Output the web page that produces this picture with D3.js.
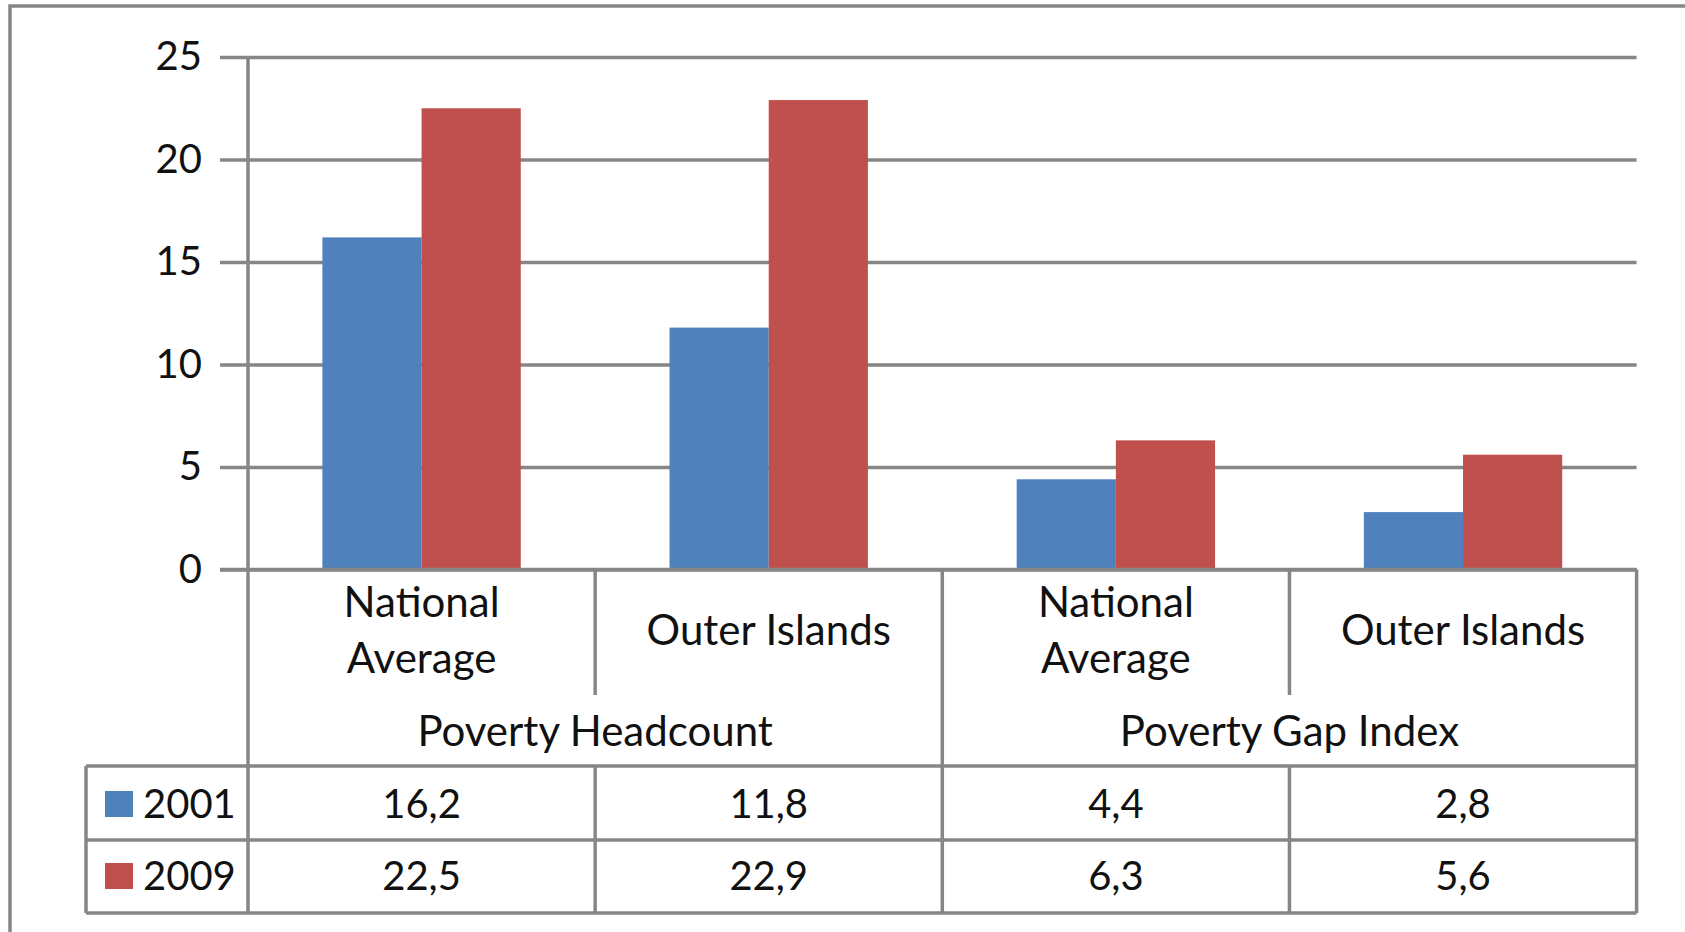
<!DOCTYPE html>
<html>
<head>
<meta charset="utf-8">
<script src="https://cdn.jsdelivr.net/npm/d3@7"></script>
<style>
  body { margin: 0; background: #fff; }
  svg { display: block; font-family: Lato, "Open Sans", sans-serif; }
</style>
</head>
<body>
<svg id="chart" width="1685" height="932"></svg>
<script>
// Chart data
const subCategories = ["National Average", "Outer Islands", "National Average", "Outer Islands"];
const groups = ["Poverty Headcount", "Poverty Gap Index"];
const seriesNames = ["2001", "2009"];
const values2001 = [16.2, 11.8, 4.4, 2.8];
const values2009 = [22.5, 22.9, 6.3, 5.6];
const yTicks = [0, 5, 10, 15, 20, 25];

const colors = { "2001": "#4F81BD", "2009": "#C0504D" };
const lineColor = "#868686";
const lineW = 3.5;
const fontSize = 40;
const catFontSize = 42;

// Layout
const size = {
    left: 248, right: 1636.6,
    top: 57, base: 569.5,
    subBottom: 695, tableTop: 766, rowLine: 840, tableBottom: 913,
    tableLeft: 86, tickStart: 220
};

const svg = d3.select("#chart");
const comma = d3.formatLocale({ decimal: ",", thousands: ".", grouping: [3], currency: ["", ""] }).format(".1f");

// Outer frame (cropped on the right and bottom)
svg.append("rect")
    .attr("x", 10).attr("y", 6)
    .attr("width", 1700).attr("height", 960)
    .attr("fill", "none")
    .attr("stroke", lineColor)
    .attr("stroke-width", lineW);

// Scales
const x = d3.scaleBand().domain(d3.range(subCategories.length)).range([size.left, size.right]).padding(0);
const xs = d3.scaleBand().domain(seriesNames).range([0, x.bandwidth()]).paddingInner(0).paddingOuter(0.75);
const y = d3.scaleLinear().domain([0, 25]).range([size.base, size.top]);

// Gridlines + y labels
const yAxis = d3.axisLeft(y)
    .tickValues(yTicks)
    .tickSize(size.right - size.tickStart)
    .tickPadding(18)
    .tickFormat(d3.format("d"));

const gy = svg.append("g")
    .attr("transform", `translate(${size.right},0)`)
    .call(yAxis);
gy.select(".domain").remove();
gy.selectAll(".tick line").attr("stroke", lineColor).attr("stroke-width", lineW);
gy.selectAll(".tick text")
    .attr("fill", "#111")
    .style("font-size", fontSize + "px")
    .style("font-family", "Lato, sans-serif");

// Bars
const seriesData = [
    { name: "2001", values: values2001 },
    { name: "2009", values: values2009 }
];

seriesData.forEach(function(s) {
    svg.append("g").selectAll("rect")
        .data(s.values)
        .enter().append("rect")
        .attr("x", (d, i) => x(i) + xs(s.name))
        .attr("y", d => y(d))
        .attr("width", xs.bandwidth())
        .attr("height", d => y(0) - y(d))
        .attr("fill", colors[s.name]);
});

// Re-draw the zero line over the bars
svg.append("line")
    .attr("x1", size.tickStart).attr("x2", size.right)
    .attr("y1", y(0)).attr("y2", y(0))
    .attr("stroke", lineColor).attr("stroke-width", lineW);

// Table / axis structure lines
const lines = svg.append("g").attr("stroke", lineColor).attr("stroke-width", lineW);

// vertical value axis (runs down through the table)
lines.append("line").attr("x1", size.left).attr("x2", size.left).attr("y1", size.top).attr("y2", size.tableBottom);

// category boundaries
d3.range(1, subCategories.length + 1).forEach(function(i) {
    const xx = i < subCategories.length ? x(i) : size.right;
    const isGroupEdge = (i % 2 === 0);
    if (isGroupEdge) {
        lines.append("line").attr("x1", xx).attr("x2", xx).attr("y1", size.base).attr("y2", size.tableBottom);
    } else {
        lines.append("line").attr("x1", xx).attr("x2", xx).attr("y1", size.base).attr("y2", size.subBottom);
        lines.append("line").attr("x1", xx).attr("x2", xx).attr("y1", size.tableTop).attr("y2", size.tableBottom);
    }
});

// horizontal table lines
[size.tableTop, size.rowLine, size.tableBottom].forEach(function(yy) {
    lines.append("line").attr("x1", size.tableLeft).attr("x2", size.right).attr("y1", yy).attr("y2", yy);
});
lines.append("line").attr("x1", size.tableLeft).attr("x2", size.tableLeft).attr("y1", size.tableTop).attr("y2", size.tableBottom);

// Category labels
const labelG = svg.append("g")
    .attr("text-anchor", "middle")
    .attr("fill", "#111")
    .style("font-size", catFontSize + "px");

subCategories.forEach(function(c, i) {
    const cx = x(i) + x.bandwidth() / 2;
    const words = c === "National Average" ? ["National", "Average"] : [c];
    if (words.length === 2) {
        labelG.append("text").attr("x", cx).attr("y", 602).attr("dy", "0.35em").text(words[0]);
        labelG.append("text").attr("x", cx).attr("y", 658).attr("dy", "0.35em").text(words[1]);
    } else {
        labelG.append("text").attr("x", cx).attr("y", 630).attr("dy", "0.35em").text(words[0]);
    }
});

groups.forEach(function(g, i) {
    const cx = x(i * 2 + 1);
    labelG.append("text").attr("x", cx).attr("y", 731).attr("dy", "0.35em").text(g);
});

// Data table rows
const rowY = [804, 876];
seriesData.forEach(function(s, r) {
    // legend key
    svg.append("rect")
        .attr("x", 105).attr("y", rowY[r] - 13)
        .attr("width", 28).attr("height", 26)
        .attr("fill", colors[s.name]);
    svg.append("text")
        .attr("x", 143).attr("y", rowY[r]).attr("dy", "0.35em")
        .attr("fill", "#111")
        .style("font-size", fontSize + "px")
        .text(s.name);

    s.values.forEach(function(v, i) {
        svg.append("text")
            .attr("x", x(i) + x.bandwidth() / 2)
            .attr("y", rowY[r]).attr("dy", "0.35em")
            .attr("text-anchor", "middle")
            .attr("fill", "#111")
            .style("font-size", fontSize + "px")
            .text(comma(v));
    });
});
</script>
</body>
</html>
